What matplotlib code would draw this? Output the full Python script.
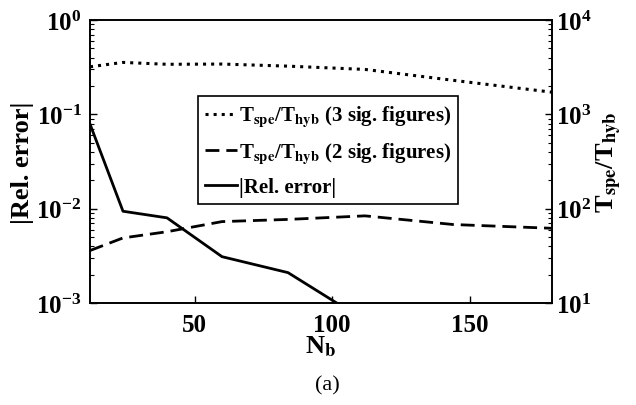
import numpy as np
import matplotlib
matplotlib.use("Agg")
import matplotlib.pyplot as plt

plt.rcParams.update({"font.family": "Liberation Serif", "font.weight": "bold",
                     "axes.labelweight": "bold",
                     "mathtext.fontset": "stix", "mathtext.default": "bf",
                     "xtick.direction": "in", "ytick.direction": "in",
                     "axes.linewidth": 1.2})

# basis size N_b
nb = [12, 24, 40, 60, 84, 112, 144, 180]
rel_err = [0.079, 0.0094, 0.0080, 0.0031, 0.0021, 0.00065]      # |Rel. error|
nb_err = nb[:6]
ratio3 = [3200, 3560, 3400, 3420, 3250, 3000, 2300, 1720]        # T_spe/T_hyb, 3 sig. figures
ratio2 = [36, 49, 57, 73, 77, 84, 68, 62]                         # T_spe/T_hyb, 2 sig. figures

fig = plt.figure(figsize=(6.36, 4.06), dpi=100)
ax = fig.add_axes([0.1415, 0.2512, 0.7265, 0.6968])
ax2 = ax.twinx()

h3, = ax2.plot(nb, ratio3, color="black", ls=":", lw=2.2)
h2, = ax2.plot(nb, ratio2, color="black", ls=(0, (5, 2.5)), lw=2)
h1, = ax.plot(nb_err, rel_err, color="black", ls="-", lw=2)

ax.set_yscale("log"); ax2.set_yscale("log")
ax.set_xlim(12, 180)
ax.set_ylim(1e-3, 1)
ax2.set_ylim(10, 1e4)
ax.set_xticks([50, 100, 150])
ax.set_yticks([1e-3, 1e-2, 1e-1, 1])
ax2.set_yticks([10, 100, 1000, 1e4])

for a in (ax, ax2):
    a.tick_params(labelsize=18, length=5, width=1)
    a.tick_params(which="minor", length=3, width=0.8)
ax.tick_params(axis="x", pad=7)
ax.tick_params(axis="y", pad=6)
ax2.tick_params(axis="y", pad=3)

ax.set_xlabel(r"N$_{\mathbf{b}}$", fontsize=19, labelpad=-2)
ax.set_ylabel("|Rel. error|", fontsize=19, labelpad=2)
ax2.set_ylabel(r"T$_{\mathbf{spe}}$/T$_{\mathbf{hyb}}$", fontsize=19, labelpad=2)

lab = r"T$_{\mathbf{spe}}$/T$_{\mathbf{hyb}}$"
leg = ax.legend([h3, h2, h1],
                [lab + " (3 sig. figures)", lab + " (2 sig. figures)", "|Rel. error|"],
                loc="upper left", bbox_to_anchor=(0.234, 0.73), fontsize=15,
                handlelength=1.5, handletextpad=0.1, labelspacing=0.55,
                borderpad=0.35, borderaxespad=0, fancybox=False, framealpha=1,
                edgecolor="black")
leg.get_frame().set_linewidth(1.2)
ax.set_zorder(ax2.get_zorder() + 1)
ax.patch.set_visible(False)

fig.text(0.514, 0.05, "(a)", ha="center", va="center", fontsize=16, fontweight="normal")

fig.savefig("out.png", dpi=100)
